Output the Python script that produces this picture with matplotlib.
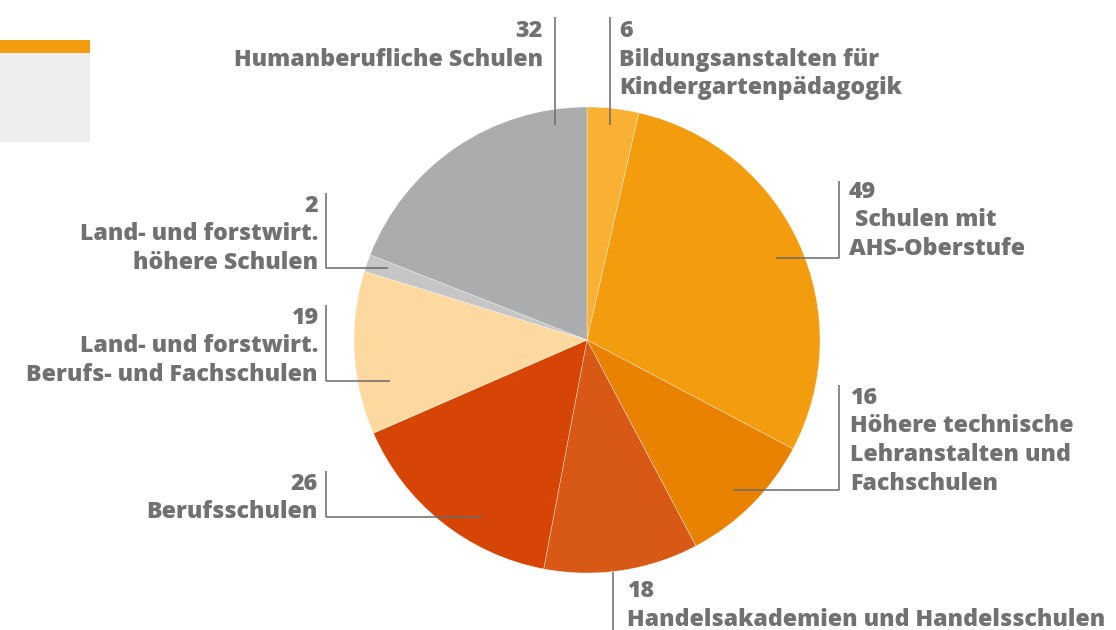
import matplotlib.pyplot as plt
from matplotlib.patches import Rectangle

W, H = 1116, 630

# values clockwise from 12 o'clock
categories = ['Bildungsanstalten für Kindergartenpädagogik', 'Schulen mit AHS-Oberstufe',
              'Höhere technische Lehranstalten und Fachschulen', 'Handelsakademien und Handelsschulen',
              'Berufsschulen', 'Land- und forstwirt. Berufs- und Fachschulen',
              'Land- und forstwirt. höhere Schulen', 'Humanberufliche Schulen']
values = [6, 49, 16, 18, 26, 19, 2, 32]
colors = ['#F8B133', '#F39C0E', '#E88200', '#D85815', '#D64506', '#FDD9A0', '#C6C6C6', '#ABACAE']

# label lines as they are broken in the picture
label_lines = [
    ['Bildungsanstalten für', 'Kindergartenpädagogik'],
    [' Schulen mit', 'AHS-Oberstufe'],
    ['Höhere technische', 'Lehranstalten und', 'Fachschulen'],
    ['Handelsakademien und Handelsschulen'],
    ['Berufsschulen'],
    ['Land- und forstwirt.', 'Berufs- und Fachschulen'],
    ['Land- und forstwirt.', 'höhere Schulen'],
    ['Humanberufliche Schulen'],
]

TXT = '#717171'
LINE = '#6a6a6a'
FONT = 'Open Sans'

fig = plt.figure(figsize=(W / 100, H / 100), dpi=100)
ax = fig.add_axes([0, 0, 1, 1])


def Y(y):
    return H - y


# decoration top left
ax.add_patch(Rectangle((0, Y(142)), 90, 89, color='#EEEEEE', lw=0))
ax.add_patch(Rectangle((0, Y(53)), 90, 13, color='#F39C0E', lw=0))

ax.pie(values, colors=colors, startangle=90, counterclock=False,
       center=(587, Y(340)), radius=233, frame=True,
       wedgeprops=dict(edgecolor=(1, 1, 1, 0.6), linewidth=0.4))
ax.set_xlim(0, W)
ax.set_ylim(0, H)
ax.set_aspect('equal')
ax.axis('off')

# (text x, first baseline y, align, leader polyline in pixel coords)
layout = [
    (619, 37, 'left', [(610, 17), (610, 125)]),
    (849, 198, 'left', [(839, 181), (839, 258), (776, 258)]),
    (850, 404, 'left', [(839, 385), (839, 490), (733, 490)]),
    (627, 597, 'left', [(613, 572), (613, 630)]),
    (318, 490, 'right', [(326, 471), (326, 517), (482, 517)]),
    (318, 324, 'right', [(326, 305), (326, 381), (390, 381)]),
    (318, 212, 'right', [(326, 193), (326, 268), (388, 268)]),
    (543, 37, 'right', [(555, 17), (555, 125)]),
]

step = 28.5
for v, lines, (tx, ty, ha, pts) in zip(values, label_lines, layout):
    for i, s in enumerate([str(v)] + lines):
        ax.text(tx, Y(ty + i * step), s, ha=ha, va='baseline', color=TXT,
                fontsize=16.7, fontweight='heavy', family=FONT, zorder=5)
    xs = [p[0] for p in pts]
    ys = [Y(p[1]) for p in pts]
    ax.plot(xs, ys, color=LINE, lw=1.1, zorder=4, solid_capstyle='butt')

fig.savefig('out.png', dpi=100)
